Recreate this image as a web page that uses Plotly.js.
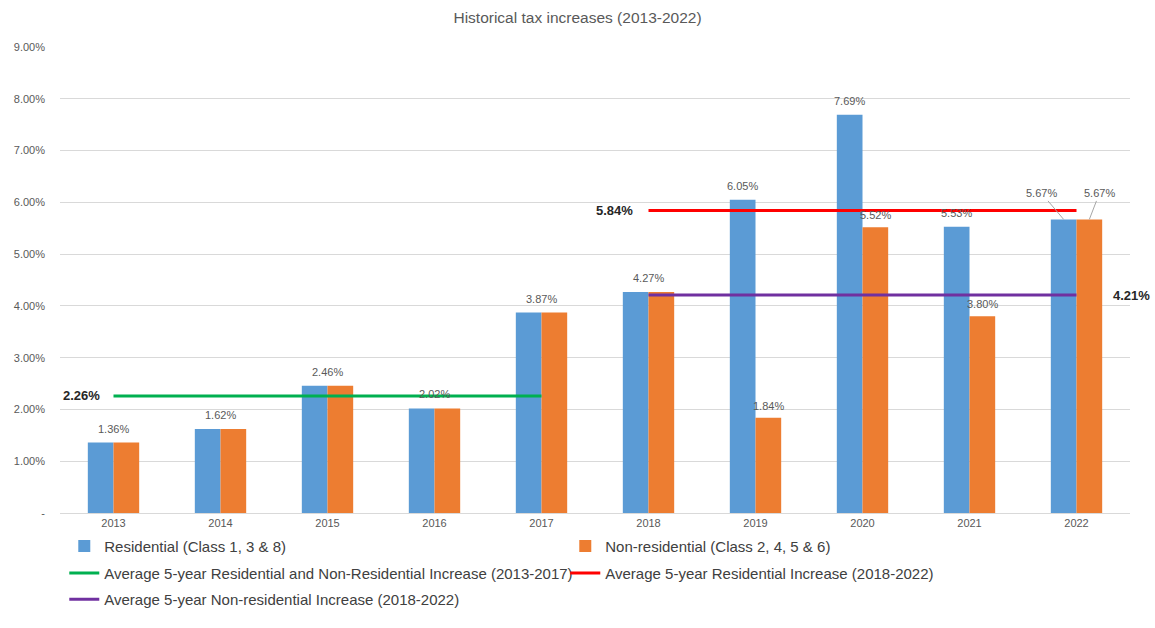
<!DOCTYPE html>
<html>
<head>
<meta charset="utf-8">
<script src="https://cdn.plot.ly/plotly-3.0.1.min.js"></script>
<style>html,body{margin:0;padding:0;background:#fff;}#chart{width:1155px;height:628px;}</style>
</head>
<body>
<div id="chart"></div>
<script>
// ---- data ----
const years = ['2013','2014','2015','2016','2017','2018','2019','2020','2021','2022'];
const residential = [1.36, 1.62, 2.46, 2.02, 3.87, 4.27, 6.05, 7.69, 5.53, 5.67];
const nonResidential = [1.36, 1.62, 2.46, 2.02, 3.87, 4.27, 1.84, 5.52, 3.80, 5.67];
const avgCombined = {label: 'Average 5-year Residential and Non-Residential Increase (2013-2017)', from: '2013', to: '2017', value: 2.26};
const avgResidential = {label: 'Average 5-year Residential Increase (2018-2022)', from: '2018', to: '2022', value: 5.84};
const avgNonResidential = {label: 'Average 5-year Non-residential Increase (2018-2022)', from: '2018', to: '2022', value: 4.21};
const splitLabelYears = ['2022'];
const yTickValues = [0, 1, 2, 3, 4, 5, 6, 7, 8, 9];

// ---- helpers ----
const idx = years.map((_, i) => i);
const fmt = v => v.toFixed(2) + '%';
const FONT = "'Liberation Sans Narrow', 'Liberation Sans', Arial, sans-serif";
const labelColor = '#595959';
const BARGAP = 0.52;
const barOffset = (1 - BARGAP) / 4; // centre of each bar relative to category centre

const mode = years.map((y, i) => {
  if (splitLabelYears.includes(y)) return 'split';
  return residential[i] === nonResidential[i] ? 'center' : 'each';
});

function avgTrace(a, color, legendId) {
  const i0 = years.indexOf(a.from), i1 = years.indexOf(a.to);
  return {
    type: 'scatter', mode: 'lines', name: a.label, legend: legendId,
    x: [i0, i1], y: [a.value, a.value],
    line: {color: color, width: 3}, hoverinfo: 'skip'
  };
}

const barTextFont = {size: 11, color: labelColor, family: FONT};
const traces = [
  {type: 'bar', name: 'Residential (Class 1, 3 & 8)', x: idx, y: residential, legend: 'legend',
   marker: {color: '#5B9BD5'}},
  {type: 'bar', name: 'Non-residential (Class 2, 4, 5 & 6)', x: idx, y: nonResidential, legend: 'legend',
   marker: {color: '#ED7D31'}},
  avgTrace(avgCombined, '#00B050', 'legend2'),
  avgTrace(avgResidential, '#FF0000', 'legend2'),
  avgTrace(avgNonResidential, '#7030A0', 'legend3')
];

const annotations = [];
const LABEL_SHIFT = 6;
years.forEach((y, i) => {
  if (mode[i] === 'center') {
    annotations.push({x: i, y: residential[i], text: fmt(residential[i]), showarrow: false,
      yanchor: 'bottom', yshift: LABEL_SHIFT, font: barTextFont});
  } else if (mode[i] === 'each') {
    annotations.push({x: i - barOffset, y: residential[i], text: fmt(residential[i]), showarrow: false,
      yanchor: 'bottom', yshift: LABEL_SHIFT, font: barTextFont});
    annotations.push({x: i + barOffset, y: nonResidential[i], text: fmt(nonResidential[i]), showarrow: false,
      yanchor: 'bottom', yshift: LABEL_SHIFT - 2, font: barTextFont});
  } else {
    annotations.push({x: i - barOffset, y: residential[i], text: fmt(residential[i]), showarrow: true,
      arrowhead: 0, arrowwidth: 1, arrowcolor: '#a6a6a6', ax: -22, ay: -26, font: barTextFont});
    annotations.push({x: i + barOffset, y: nonResidential[i], text: fmt(nonResidential[i]), showarrow: true,
      arrowhead: 0, arrowwidth: 1, arrowcolor: '#a6a6a6', ax: 10, ay: -26, font: barTextFont});
  }
});
const boldFont = {size: 13, color: '#262626', family: FONT};
annotations.push({x: years.indexOf(avgCombined.from), y: avgCombined.value, text: '<b>' + fmt(avgCombined.value) + '</b>',
  showarrow: false, xanchor: 'right', xshift: -12, font: boldFont});
annotations.push({x: years.indexOf(avgResidential.from), y: avgResidential.value, text: '<b>' + fmt(avgResidential.value) + '</b>',
  showarrow: false, xanchor: 'right', xshift: -14, font: boldFont});
annotations.push({x: years.indexOf(avgNonResidential.to), y: avgNonResidential.value, text: '<b>' + fmt(avgNonResidential.value) + '</b>',
  showarrow: false, xanchor: 'left', xshift: 34, font: boldFont});

const legendBase = {orientation: 'h', x: 0.004, xanchor: 'left', yanchor: 'top',
  entrywidth: 456, entrywidthmode: 'pixels', traceorder: 'normal', bgcolor: 'rgba(0,0,0,0)',
  font: {size: 15, color: '#404040', family: FONT}, itemwidth: 30};

const layout = {
  width: 1155, height: 628,
  margin: {l: 60, r: 25, t: 47, b: 115},
  paper_bgcolor: '#fff', plot_bgcolor: '#fff',
  font: {family: FONT, color: labelColor},
  title: {text: 'Historical tax increases (2013-2022)', x: 0.5, xanchor: 'center', y: 0.972, yanchor: 'middle',
    font: {size: 15.5, color: labelColor, family: FONT}},
  barmode: 'group', bargap: BARGAP, bargroupgap: 0,
  showlegend: true,
  legend: Object.assign({}, legendBase, {y: -0.036}),
  legend2: Object.assign({}, legendBase, {y: -0.094}),
  legend3: Object.assign({}, legendBase, {y: -0.150}),
  xaxis: {type: 'linear', range: [-0.5, 9.5], tickvals: idx, ticktext: years,
    showgrid: false, zeroline: false, showline: true, linecolor: '#d9d9d9',
    ticks: '', tickfont: {size: 11, color: labelColor, family: FONT}, fixedrange: true},
  yaxis: {range: [0, 9], tickvals: yTickValues,
    ticktext: yTickValues.map(v => v === 0 ? '-' : v.toFixed(2) + '%'),
    showgrid: true, gridcolor: '#d9d9d9', gridwidth: 1, zeroline: false,
    ticks: '', ticklabelstandoff: 14, tickfont: {size: 11, color: labelColor, family: FONT}, fixedrange: true},
  annotations: annotations
};

Plotly.newPlot('chart', traces, layout, {displayModeBar: false, staticPlot: true});
</script>
</body>
</html>
